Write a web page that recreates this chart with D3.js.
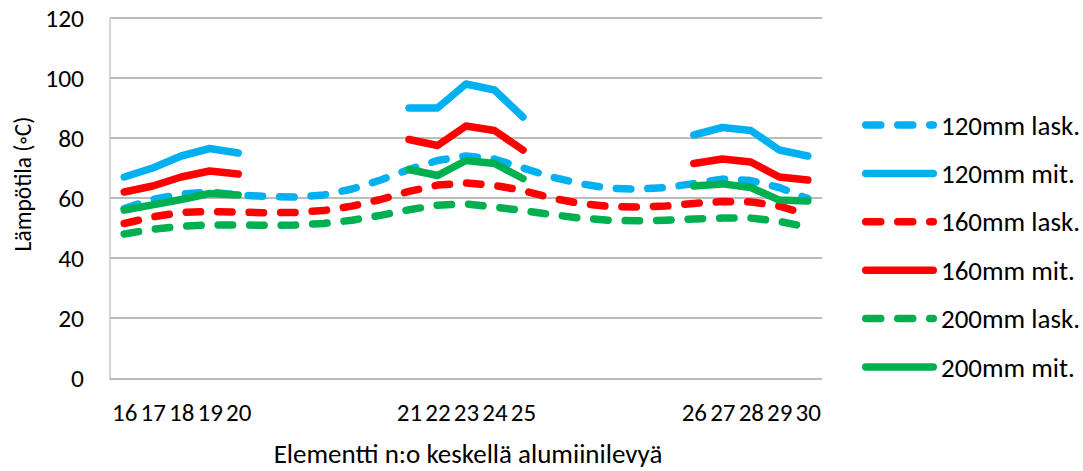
<!DOCTYPE html>
<html>
<head>
<meta charset="utf-8">
<script src="https://cdn.jsdelivr.net/npm/d3@7"></script>
<style>
  html, body { margin: 0; padding: 0; background: #ffffff; }
  svg { display: block; }
  text { font-family: Calibri, Carlito, Lato, "Open Sans", sans-serif; fill: #000; }
</style>
</head>
<body>
<svg id="chart" width="1083" height="471"></svg>
<script>
// ---- data ----
const categories = ["16","17","18","19","20","","","","","","21","22","23","24","25","","","","","","26","27","28","29","30"];
const yTicks = [0, 20, 40, 60, 80, 100, 120];

const s120lask = [56.5, 59.5, 61.3, 62, 61, 60.5, 60.3, 61, 63, 66, 69.5, 72.5, 74, 73, 70, 67, 64.8, 63.3, 62.9, 63.5, 64.8, 66.3, 65.8, 63.5, 59.8];
const s120mit  = [67, 70, 74, 76.5, 75, null, null, null, null, null, 90, 90, 98, 96, 87, null, null, null, null, null, 81, 83.5, 82.5, 76, 74];
const s160lask = [51.5, 53.7, 55.2, 55.5, 55.3, 55.1, 55.2, 55.8, 57.3, 59.5, 62.2, 64.3, 65, 64.2, 62.5, 60, 58.2, 57.2, 57, 57.3, 58.2, 58.8, 58.7, 57.3, 54.5];
const s160mit  = [62, 64, 67, 69, 68, null, null, null, null, null, 79.5, 77.5, 84, 82.5, 76, null, null, null, null, null, 71.5, 73, 72, 67, 66];
const s200lask = [48, 49.6, 50.6, 51, 51, 50.9, 51, 51.5, 52.6, 54.2, 56.1, 57.6, 58, 57, 55.8, 54.5, 53.3, 52.6, 52.4, 52.6, 53, 53.3, 53.3, 52.2, 50.3];
const s200mit  = [56, 57.7, 59.5, 61.5, 61, null, null, null, null, null, 69.5, 67.5, 72.5, 71.5, 66.5, null, null, null, null, null, 64, 64.7, 63.5, 59.3, 59];

const seriesNames = ["120mm lask.", "120mm mit.", "160mm lask.", "160mm mit.", "200mm lask.", "200mm mit."];
const seriesData = [s120lask, s120mit, s160lask, s160mit, s200lask, s200mit];
const seriesColors = ["#00B0F0", "#00B0F0", "#FF0000", "#FF0000", "#00B050", "#00B050"];
const seriesDashed = [true, false, true, false, true, false];

const xTitle = "Elementti n:o keskellä alumiinilevyä";
const yTitle = "Lämpötila (\u25E6C)";

// ---- layout ----
const FONT_Y = 25.5;
const FONT_X = 25;
const FONT_YT = 23.5;
const FONT_TXT = 27;
const plot = { left: 110, right: 822, top: 18, bottom: 378 };
const LW = 7.5;
const DASH = "14.5 17";

const svg = d3.select("#chart");

const x = d3.scalePoint()
  .domain(d3.range(categories.length))
  .range([plot.left, plot.right])
  .padding(0.5);

const y = d3.scaleLinear()
  .domain([0, 120])
  .range([plot.bottom, plot.top]);

// gridlines
svg.append("g")
  .selectAll("line")
  .data(yTicks.filter(d => d !== 0))
  .join("line")
  .attr("x1", plot.left).attr("x2", plot.right)
  .attr("y1", d => y(d)).attr("y2", d => y(d))
  .attr("stroke", "#a6a6a6").attr("stroke-width", 1.3);

// axes lines
svg.append("line")
  .attr("x1", plot.left).attr("x2", plot.left)
  .attr("y1", plot.top).attr("y2", plot.bottom + 2)
  .attr("stroke", "#bfbfbf").attr("stroke-width", 1.3);
svg.append("line")
  .attr("x1", plot.left).attr("x2", plot.right)
  .attr("y1", plot.bottom + 1).attr("y2", plot.bottom + 1)
  .attr("stroke", "#a6a6a6").attr("stroke-width", 1.6);

// y axis labels
const yAxis = d3.axisLeft(y).tickValues(yTicks).tickSize(0).tickPadding(26);
const gy = svg.append("g").attr("transform", `translate(${plot.left},0)`).call(yAxis);
gy.select(".domain").remove();
gy.attr("font-size", null).attr("font-family", null);
gy.selectAll("text").style("font-size", FONT_Y + "px").attr("fill", "#000");

// x axis labels
const xAxis = d3.axisBottom(x).tickFormat(i => categories[i]).tickSize(0).tickPadding(25);
const gx = svg.append("g").attr("transform", `translate(0,${plot.bottom})`).call(xAxis);
gx.select(".domain").remove();
gx.attr("font-size", null).attr("font-family", null);
gx.selectAll("text").style("font-size", FONT_X + "px").attr("fill", "#000");

// series
const line = d3.line()
  .defined(d => d != null)
  .x((d, i) => x(i))
  .y(d => y(d));

seriesData.forEach((data, k) => {
  svg.append("path")
    .datum(data)
    .attr("d", line)
    .attr("fill", "none")
    .attr("stroke", seriesColors[k])
    .attr("stroke-width", LW)
    .attr("stroke-linecap", "round")
    .attr("stroke-linejoin", "round")
    .attr("stroke-dasharray", seriesDashed[k] ? DASH : null);
});

// titles
svg.append("text")
  .attr("x", 468).attr("y", 453)
  .attr("text-anchor", "middle").attr("dominant-baseline", "central")
  .style("font-size", FONT_TXT + "px")
  .text(xTitle);

svg.append("text")
  .attr("transform", "translate(23,184) rotate(-90)")
  .attr("text-anchor", "middle").attr("dominant-baseline", "central")
  .style("font-size", FONT_YT + "px")
  .text(yTitle);

// legend
const legend = svg.append("g");
const legY0 = 125, legStep = 48.4;
seriesNames.forEach((name, k) => {
  const yy = legY0 + k * legStep;
  legend.append("line")
    .attr("x1", 862 + LW / 2).attr("x2", 937 - LW / 2)
    .attr("y1", yy).attr("y2", yy)
    .attr("stroke", seriesColors[k])
    .attr("stroke-width", LW)
    .attr("stroke-linecap", "round")
    .attr("stroke-dasharray", seriesDashed[k] ? "15 17" : null);
  legend.append("text")
    .attr("x", 941).attr("y", yy)
    .attr("dominant-baseline", "central")
    .style("font-size", FONT_TXT + "px")
    .text(name);
});
</script>
</body>
</html>
